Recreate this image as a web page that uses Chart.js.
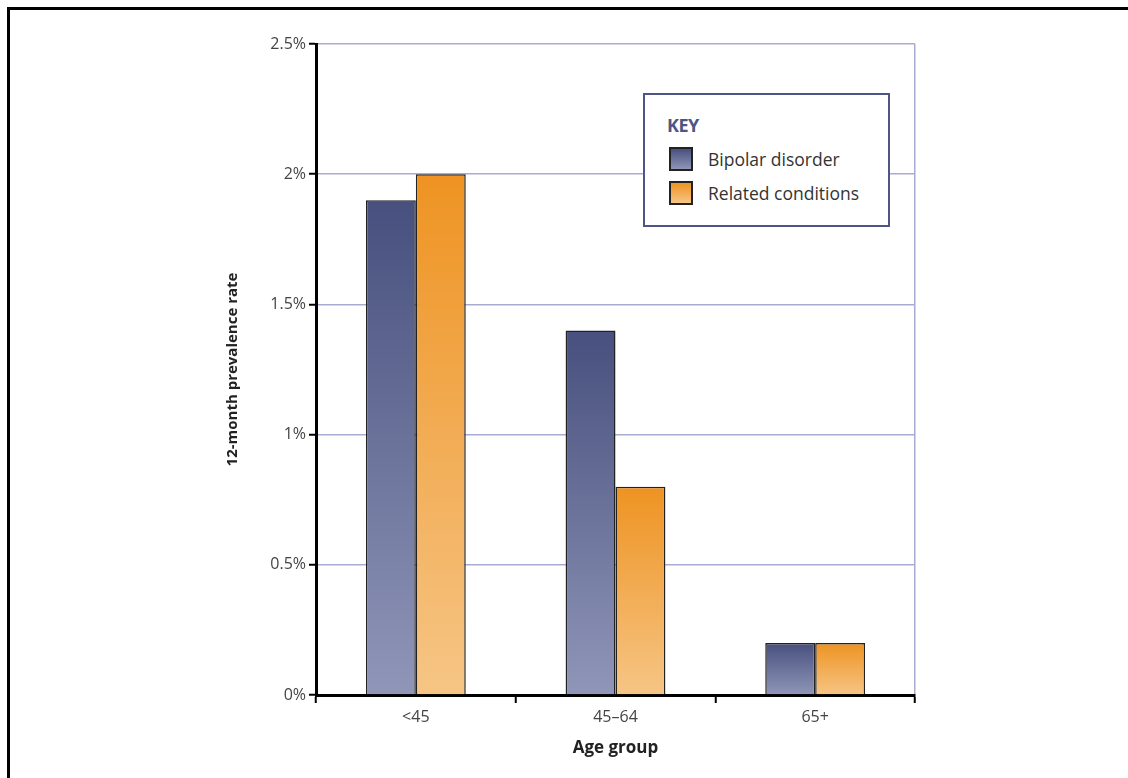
<!DOCTYPE html>
<html>
<head>
<meta charset="utf-8">
<script src="https://cdn.jsdelivr.net/npm/chart.js@4"></script>
<style>
  body { margin: 0; background: #fff; }
  #wrap { position: relative; width: 1128px; height: 778px; }
  #frame { position: absolute; left: 7px; top: 7px; right: 0; bottom: 0;
           border-top: 3px solid #000; border-left: 3px solid #000; pointer-events: none; }
  #key { position: absolute; left: 643px; top: 93px; width: 243px; height: 130px;
         border: 2px solid #4d5585; background: #fff; font-family: "Open Sans", sans-serif; }
  #key .title { position: absolute; left: 22px; top: 18px; font-weight: bold; font-size: 18px;
                color: #4d5585; letter-spacing: -0.5px; }
  #key .item { position: absolute; left: 24px; height: 24px; display: flex; align-items: center;
               font-size: 17.5px; color: #333; }
  #key .sw { width: 20px; height: 20px; border: 2px solid #222; margin-right: 15px; }
</style>
</head>
<body>
<div id="wrap">
  <canvas id="myChart" width="1128" height="778"></canvas>
  <div id="key"><div class="title">KEY</div></div>
  <div id="frame"></div>
</div>
<script>
const categories = ['<45', '45\u201364', '65+'];
const seriesNames = ['Bipolar disorder', 'Related conditions'];
const bipolar = [1.9, 1.4, 0.2];
const related = [2.0, 0.8, 0.2];
const yTicks = ['0%', '0.5%', '1%', '1.5%', '2%', '2.5%'];

// top / bottom colours of each bar gradient
const fills = [['#47507e', '#9096b8'], ['#ee9322', '#f6c585']];
const lavender = '#a9acd2';

function barGradient(ctx, stops) {
  const chart = ctx.chart;
  if (!chart.chartArea || ctx.type !== 'data') return stops[0];
  const y = chart.scales.y;
  const top = y.getPixelForValue(ctx.parsed.y);
  const base = y.getPixelForValue(0);
  const g = chart.ctx.createLinearGradient(0, top, 0, base);
  g.addColorStop(0, stops[0]);
  g.addColorStop(1, stops[1]);
  return g;
}

const chart = new Chart(document.getElementById('myChart'), {
  type: 'bar',
  data: {
    labels: categories,
    datasets: [bipolar, related].map((d, i) => ({
      label: seriesNames[i],
      data: d,
      backgroundColor: ctx => barGradient(ctx, fills[i]),
      borderColor: '#222',
      borderWidth: 1.5,
      categoryPercentage: 0.5,
      barPercentage: 1.0
    }))
  },
  options: {
    responsive: false,
    animation: false,
    layout: { padding: { left: 220, top: 44, right: 213, bottom: 0 } },
    plugins: { legend: { display: false }, tooltip: { enabled: false } },
    scales: {
      x: {
        afterFit: s => { s.height = 83; },
        grid: {
          color: ctx => ctx.type === 'scale' ? lavender : 'transparent',
          lineWidth: 1.5,
          tickColor: '#000',
          tickWidth: 2,
          tickLength: 8
        },
        border: { color: '#000', width: 3 },
        ticks: { color: '#444', font: { family: 'Open Sans', size: 16 }, padding: 5 },
        title: { display: true, text: 'Age group', color: '#222',
                 font: { family: 'Open Sans', size: 17, weight: 'bold' },
                 padding: { top: 0, bottom: 20 } }
      },
      y: {
        min: 0, max: 2.5,
        afterFit: s => { s.width = 96; },
        grid: { color: lavender, lineWidth: 1.5, tickColor: '#000', tickWidth: 2, tickLength: 7 },
        border: { color: '#000', width: 3 },
        ticks: {
          stepSize: 0.5,
          color: '#444',
          font: { family: 'Open Sans', size: 16 },
          padding: 3,
          callback: (v, i) => yTicks[i]
        },
        title: { display: true, text: '12-month prevalence rate', color: '#222',
                 font: { family: 'Open Sans', size: 15, weight: 'bold' },
                 padding: { top: 4, bottom: 0 } }
      }
    }
  }
});

// legend box built from the datasets
const key = document.getElementById('key');
chart.data.datasets.forEach((ds, i) => {
  const item = document.createElement('div');
  item.className = 'item';
  item.style.top = (52 + i * 34) + 'px';
  const sw = document.createElement('div');
  sw.className = 'sw';
  sw.style.background = 'linear-gradient(' + fills[i][0] + ',' + fills[i][1] + ')';
  item.appendChild(sw);
  item.appendChild(document.createTextNode(ds.label));
  key.appendChild(item);
});
</script>
</body>
</html>
